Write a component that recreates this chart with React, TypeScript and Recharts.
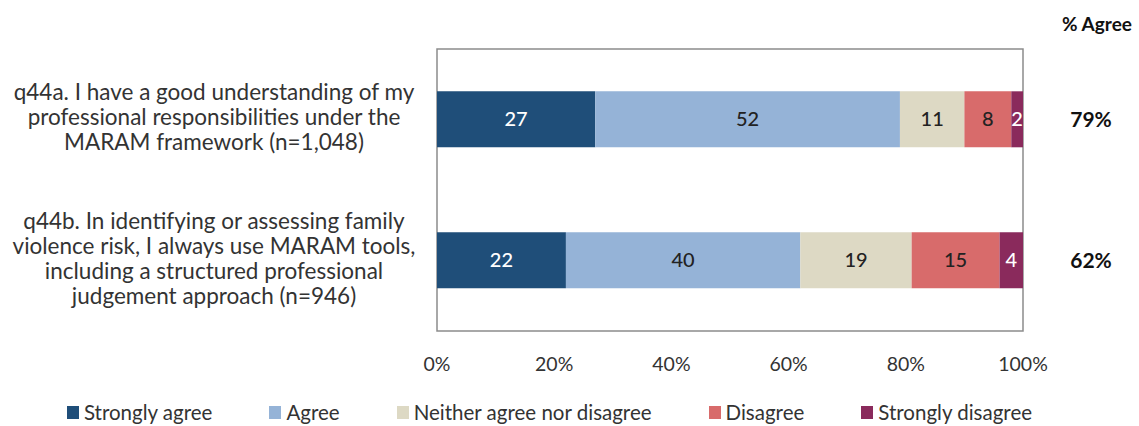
import { BarChart, Bar, XAxis, YAxis, Legend, LabelList, ReferenceArea } from 'recharts'

const FONT = 'Lato, "Open Sans", sans-serif'

const questions = ['q44a', 'q44b']
const questionLines = [
  ['q44a. I have a good understanding of my', 'professional responsibilities under the', 'MARAM framework (n=1,048)'],
  ['q44b. In identifying or assessing family', 'violence risk, I always use MARAM tools,', 'including a structured professional', 'judgement approach (n=946)'],
]
const stronglyAgree = [27, 22]
const agree = [52, 40]
const neither = [11, 19]
const disagree = [8, 15]
const stronglyDisagree = [2, 4]
const pctAgree = ['79%', '62%']
const xTicks = [0, 20, 40, 60, 80, 100]

const seriesDefs = [
  { key: 'sa', name: 'Strongly agree', color: '#1F4E79', text: '#ffffff' },
  { key: 'a', name: 'Agree', color: '#95B3D7', text: '#222222' },
  { key: 'n', name: 'Neither agree nor disagree', color: '#DDD9C4', text: '#222222' },
  { key: 'd', name: 'Disagree', color: '#D86B6B', text: '#222222' },
  { key: 'sd', name: 'Strongly disagree', color: '#8A2A5C', text: '#ffffff' },
]

const data = questions.map((q, i) => ({
  q,
  sa: stronglyAgree[i],
  a: agree[i],
  n: neither[i],
  d: disagree[i],
  sd: stronglyDisagree[i],
}))

function QuestionTick({ y, payload }: any) {
  const idx = questions.indexOf(payload.value)
  const lines = questionLines[idx] || []
  const lh = 25
  const start = y - ((lines.length - 1) * lh) / 2 - 2
  return (
    <text x={214} y={start} textAnchor="middle" fontFamily={FONT} fontSize={22.5} fill="#333">
      {lines.map((l, k) => (
        <tspan key={k} x={214} y={start + k * lh} dy="0.35em">{l}</tspan>
      ))}
    </text>
  )
}

function AgreeTick({ y, payload }: any) {
  const idx = questions.indexOf(payload.value)
  return (
    <text x={1091} y={y} dy="0.35em" textAnchor="middle" fontFamily={FONT} fontSize={21} fontWeight={700} fill="#111">
      {pctAgree[idx]}
    </text>
  )
}

function LegendContent() {
  return (
    <div style={{ display: 'flex', justifyContent: 'center', gap: 57, paddingRight: 40, paddingTop: 14, fontFamily: FONT, fontSize: 20.5, color: '#333' }}>
      {seriesDefs.map(s => (
        <div key={s.key} style={{ display: 'flex', alignItems: 'center', gap: 5 }}>
          <span style={{ width: 12, height: 13, background: s.color, display: 'inline-block' }} />
          <span>{s.name}</span>
        </div>
      ))}
    </div>
  )
}

export default function App() {
  return (
    <div style={{ position: 'absolute', left: 0, top: 0, background: '#fff' }}>
      <BarChart
        width={1139}
        height={426}
        data={data}
        layout="vertical"
        barCategoryGap="30%"
        margin={{ top: 49, right: 0, left: 0, bottom: 4 }}
      >
        <XAxis
          type="number"
          domain={[0, 100]}
          ticks={xTicks}
          tickFormatter={(v: number) => `${v}%`}
          tickLine={false}
          axisLine={false}
          tickMargin={20}
          height={55}
          tick={{ fontFamily: FONT, fontSize: 19.5, fill: '#333' }}
        />
        <YAxis
          type="category"
          dataKey="q"
          width={437}
          tickLine={false}
          axisLine={false}
          tick={<QuestionTick />}
        />
        <YAxis
          yAxisId="right"
          orientation="right"
          type="category"
          dataKey="q"
          width={116}
          tickLine={false}
          axisLine={false}
          tick={<AgreeTick />}
          label={{ value: '% Agree', position: 'top', offset: 18, dx: 16, fontFamily: FONT, fontSize: 19, fontWeight: 700, fill: '#111' }}
        />
        <ReferenceArea x1={0} x2={100} fill="none" stroke="#8c8c8c" strokeWidth={1.5} />
        <Legend verticalAlign="bottom" height={36} content={<LegendContent />} />
        {seriesDefs.map(s => (
          <Bar key={s.key} dataKey={s.key} name={s.name} stackId="s" fill={s.color} isAnimationActive={false}>
            <LabelList dataKey={s.key} position="center" fill={s.text} fontFamily={FONT} fontSize={20} fontWeight={500} />
          </Bar>
        ))}
      </BarChart>
    </div>
  )
}
